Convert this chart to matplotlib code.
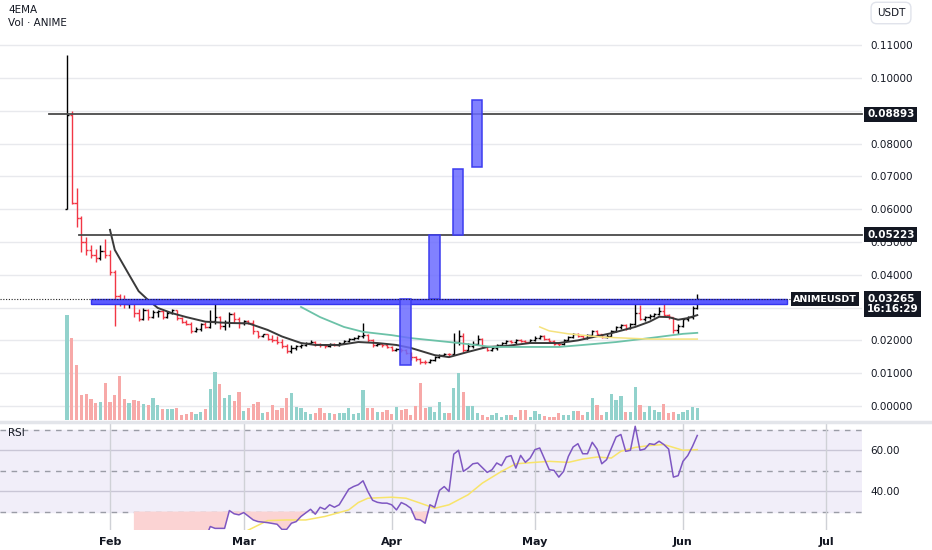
import matplotlib
matplotlib.use("Agg")
import matplotlib.pyplot as plt
import matplotlib.dates as mdates
from matplotlib.patches import Rectangle
from matplotlib.lines import Line2D
from matplotlib.transforms import blended_transform_factory
import numpy as np
import pandas as pd

# daily ANIME/USDT bars, 23 Jan 2025 -> 4 Jun 2025
first_open = 0.0600
closes = [0.0887, 0.0620, 0.0573, 0.0500, 0.0475, 0.0460, 0.0450, 0.0472, 0.0460, 0.0410,
          0.0335, 0.0320, 0.0310, 0.0318, 0.0285, 0.0265, 0.0293, 0.0272, 0.0287, 0.0290,
          0.0272, 0.0285, 0.0292, 0.0268, 0.0256, 0.0250, 0.0228, 0.0236, 0.0250, 0.0242,
          0.0258, 0.0272, 0.0245, 0.0255, 0.0280, 0.0265, 0.0252, 0.0258, 0.0254, 0.0228,
          0.0212, 0.0218, 0.0205, 0.0200, 0.0195, 0.0182, 0.0168, 0.0178, 0.0183, 0.0187,
          0.0192, 0.0196, 0.0188, 0.0185, 0.0183, 0.0190, 0.0186, 0.0192, 0.0197, 0.0203,
          0.0207, 0.0212, 0.0216, 0.0200, 0.0186, 0.0188, 0.0185, 0.0180, 0.0172, 0.0175,
          0.0170, 0.0162, 0.0150, 0.0142, 0.0135, 0.0133, 0.0140, 0.0148, 0.0156, 0.0160,
          0.0157, 0.0195, 0.0213, 0.0172, 0.0183, 0.0190, 0.0203, 0.0180, 0.0172, 0.0176,
          0.0185, 0.0192, 0.0197, 0.0195, 0.0200, 0.0198, 0.0196, 0.0202, 0.0208, 0.0213,
          0.0205, 0.0198, 0.0190, 0.0188, 0.0202, 0.0210, 0.0218, 0.0213, 0.0208, 0.0216,
          0.0228, 0.0218, 0.0210, 0.0214, 0.0230, 0.0240, 0.0246, 0.0238, 0.0250, 0.0285,
          0.0265, 0.0270, 0.0275, 0.0280, 0.0290, 0.0278, 0.0270, 0.0232, 0.0245, 0.0265,
          0.0270, 0.0300, 0.03265]
highs = [0.1070, 0.0900, 0.0665, 0.0580, 0.0515, 0.0490, 0.0478, 0.0490, 0.0510, 0.0475,
         0.0415, 0.0340, 0.0338, 0.0325, 0.0322, 0.0295, 0.0298, 0.0296, 0.0293, 0.0294,
         0.0292, 0.0290, 0.0296, 0.0294, 0.0272, 0.0262, 0.0255, 0.0240, 0.0253, 0.0256,
         0.0292, 0.0315, 0.0275, 0.0263, 0.0286, 0.0288, 0.0272, 0.0262, 0.0263, 0.0262,
         0.0230, 0.0220, 0.0220, 0.0215, 0.0212, 0.0205, 0.0190, 0.0185, 0.0187, 0.0190,
         0.0196, 0.0200, 0.0199, 0.0193, 0.0190, 0.0193, 0.0192, 0.0195, 0.0200, 0.0206,
         0.0210, 0.0215, 0.0253, 0.0218, 0.0203, 0.0192, 0.0191, 0.0188, 0.0184, 0.0178,
         0.0178, 0.0173, 0.0165, 0.0153, 0.0146, 0.0140, 0.0143, 0.0152, 0.0160, 0.0163,
         0.0163, 0.0222, 0.0232, 0.0222, 0.0192, 0.0198, 0.0215, 0.0206, 0.0184, 0.0180,
         0.0188, 0.0195, 0.0200, 0.0202, 0.0203, 0.0204, 0.0202, 0.0205, 0.0212, 0.0217,
         0.0215, 0.0208, 0.0200, 0.0193, 0.0205, 0.0213, 0.0222, 0.0222, 0.0216, 0.0219,
         0.0232, 0.0232, 0.0221, 0.0218, 0.0233, 0.0243, 0.0250, 0.0249, 0.0253, 0.0311,
         0.0308, 0.0273, 0.0279, 0.0284, 0.0302, 0.0313, 0.0281, 0.0272, 0.0250, 0.0268,
         0.0274, 0.0305, 0.0342]
lows = [0.0600, 0.0615, 0.0545, 0.0470, 0.0460, 0.0452, 0.0440, 0.0445, 0.0450, 0.0400,
        0.0244, 0.0305, 0.0300, 0.0300, 0.0272, 0.0258, 0.0262, 0.0262, 0.0268, 0.0270,
        0.0265, 0.0268, 0.0280, 0.0262, 0.0252, 0.0247, 0.0222, 0.0225, 0.0230, 0.0238,
        0.0238, 0.0250, 0.0235, 0.0232, 0.0242, 0.0253, 0.0238, 0.0248, 0.0249, 0.0220,
        0.0208, 0.0210, 0.0200, 0.0196, 0.0190, 0.0176, 0.0163, 0.0163, 0.0172, 0.0178,
        0.0183, 0.0188, 0.0183, 0.0181, 0.0178, 0.0180, 0.0182, 0.0184, 0.0189, 0.0194,
        0.0200, 0.0204, 0.0208, 0.0196, 0.0180, 0.0182, 0.0181, 0.0176, 0.0168, 0.0167,
        0.0165, 0.0158, 0.0140, 0.0137, 0.0127, 0.0128, 0.0130, 0.0137, 0.0145, 0.0152,
        0.0152, 0.0155, 0.0185, 0.0165, 0.0168, 0.0178, 0.0186, 0.0176, 0.0168, 0.0168,
        0.0172, 0.0182, 0.0188, 0.0191, 0.0190, 0.0194, 0.0192, 0.0193, 0.0199, 0.0204,
        0.0201, 0.0195, 0.0186, 0.0184, 0.0185, 0.0198, 0.0206, 0.0209, 0.0204, 0.0205,
        0.0212, 0.0214, 0.0206, 0.0206, 0.0210, 0.0226, 0.0236, 0.0233, 0.0234, 0.0246,
        0.0262, 0.0260, 0.0266, 0.0271, 0.0276, 0.0274, 0.0266, 0.0222, 0.0218, 0.0240,
        0.0258, 0.0266, 0.0296]
volumes = [105, 82, 55, 25, 26, 21, 17, 18, 37, 18,
           25, 44, 21, 17, 20, 19, 16, 15, 22, 15,
           11, 11, 11, 12, 5, 6, 8, 6, 8, 11,
           31, 48, 36, 22, 25, 19, 28, 9, 12, 16,
           18, 7, 8, 15, 10, 12, 22, 27, 13, 12,
           8, 6, 7, 12, 7, 7, 6, 7, 7, 12,
           6, 7, 30, 12, 12, 8, 8, 10, 6, 13,
           10, 11, 5, 14, 37, 12, 13, 8, 18, 7,
           7, 32, 47, 28, 14, 14, 7, 5, 3, 5,
           7, 3, 5, 5, 3, 10, 10, 3, 9, 6,
           4, 3, 3, 7, 5, 5, 9, 9, 5, 8,
           22, 15, 5, 8, 26, 20, 24, 8, 8, 33,
           15, 8, 14, 10, 8, 16, 7, 8, 6, 8,
           10, 13, 12]

# moving averages (day index, value)
ema20_idx = [9, 10, 13, 15, 17, 19, 22, 25, 29, 34, 38, 42, 45, 49, 52, 57, 61, 65, 69, 72,
             77, 80, 84, 88, 92, 97, 103, 107, 114, 119, 122, 124, 126, 128, 130, 132]
ema20_vals = [0.0537, 0.0476, 0.0400, 0.0350, 0.0323, 0.0299, 0.0283, 0.0271, 0.0257, 0.0253,
              0.0252, 0.0232, 0.0212, 0.0192, 0.0186, 0.0186, 0.0195, 0.0192, 0.0186, 0.0177,
              0.0155, 0.0149, 0.0165, 0.0180, 0.0183, 0.0192, 0.0192, 0.0200, 0.0222, 0.0241,
              0.0257, 0.0272, 0.0271, 0.0263, 0.0268, 0.0277]
ema50_idx = [49, 53, 58, 62, 68, 72, 82, 89, 96, 103, 108, 115, 122, 129, 132]
ema50_vals = [0.0302, 0.0271, 0.0241, 0.0226, 0.0216, 0.0207, 0.0192, 0.0180, 0.0180, 0.0180,
              0.0186, 0.0195, 0.0207, 0.0220, 0.0223]
ema100_idx = [99, 101, 105, 112, 122, 132]
ema100_vals = [0.0241, 0.0229, 0.0220, 0.0210, 0.0204, 0.0204]

rsi_idx = [14, 18, 22, 26, 29, 30, 31, 33, 34, 35, 36, 37, 39, 40, 42, 44, 45, 46, 47, 48,
           49, 51, 52, 53, 54, 55, 56, 57, 59, 60, 61, 62, 63, 64, 65, 66, 67, 68, 69, 70,
           71, 72, 73, 74, 75, 76, 77, 78, 79, 80, 81, 82, 83, 84, 85, 86, 88, 89, 90, 91,
           92, 93, 94, 95, 96, 97, 98, 99, 101, 102, 103, 104, 105, 106, 107, 108, 109, 110,
           111, 112, 113, 115, 116, 117, 118, 119, 120, 121, 122, 123, 124, 125, 126, 127,
           128, 129, 130, 131, 132]
rsi_vals = [16, 14, 13, 12, 17, 22.7, 21.8, 21.8, 30.5, 28.9, 28.4, 29.5, 25.9, 25.1, 24.6,
            23.8, 21.3, 21.3, 24.3, 25.1, 27.6, 31.1, 28.7, 32.1, 31.1, 33.3, 32.1, 33.3, 40.9,
            42.2, 43.1, 45.0, 39.8, 35.5, 34.5, 34.1, 34.1, 33.3, 30.8, 34.4, 33.3, 31.6, 26.2,
            25.9, 24.3, 33.3, 32.1, 40.3, 42.2, 39.8, 58.0, 59.9, 49.6, 51.2, 53.3, 53.7, 49.1,
            50.4, 53.7, 52.4, 56.6, 57.3, 51.2, 57.4, 54.0, 56.1, 60.2, 61.0, 50.4, 50.1, 46.8,
            49.6, 56.9, 61.5, 63.1, 58.2, 58.2, 63.8, 60.5, 53.3, 55.3, 66.4, 67.6, 59.4, 59.9,
            71.6, 59.9, 60.5, 63.1, 62.7, 64.3, 62.7, 60.5, 46.8, 47.5, 54.5, 57.3, 61.8, 67.1]
rsi_ma_idx = [34, 38, 42, 46, 50, 54, 59, 61, 63, 68, 71, 74, 77, 80, 84, 87, 91, 94, 98, 101,
              105, 108, 111, 114, 116, 119, 122, 125, 127, 129, 132]
rsi_ma_vals = [16, 21.0, 25.6, 25.9, 25.9, 27.6, 30.8, 34.4, 36.5, 37.0, 36.5, 34.1, 31.6, 33.3,
               38.2, 43.9, 49.6, 53.3, 54.0, 54.5, 54.0, 55.6, 56.6, 56.1, 59.4, 61.3, 62.2,
               62.7, 61.3, 59.9, 60.2]

# drawings
level_prices = [0.08893, 0.05223]
level_starts = ["2025-01-19 04:00", "2025-01-25 12:00"]
zone_start, zone_end = "2025-01-28", "2025-06-22 18:00"
zone_low, zone_high = 0.0311, 0.0326
box_starts = ["2025-04-02 18:00", "2025-04-08 19:00", "2025-04-13 22:00", "2025-04-17 19:00"]
box_ends = ["2025-04-05 02:00", "2025-04-11 02:00", "2025-04-16 00:00", "2025-04-19 22:00"]
box_lows = [0.0125, 0.0326, 0.0522, 0.0729]
box_highs = [0.0326, 0.0522, 0.0723, 0.0933]
last_price = 0.03265
price_ticks = [0.00, 0.01, 0.02, 0.03, 0.04, 0.05, 0.06, 0.07, 0.08, 0.09, 0.10, 0.11]
# tick labels hidden behind the price tags on the reference
covered_ticks = [0.03, 0.09]

W, H = 932, 550
TXT = "#131722"


def rect(x0, y0, x1, y1):
    return [x0 / W, 1 - y1 / H, (x1 - x0) / W, (y1 - y0) / H]


def px(x, y):
    return x / W, 1 - y / H


dates = pd.date_range("2025-01-23", periods=len(closes), freq="D")
opens = [first_open] + closes[:-1]
up = np.array(closes) >= np.array(opens)
bar_col = np.where(up, "#000000", "#f23645")
vol_col = np.where(up, "#92d2cc", "#f7a9a8")

fig = plt.figure(figsize=(W / 100, H / 100), dpi=100)
ax = fig.add_axes(rect(0, 0, 862, 420))
rax = fig.add_axes(rect(0, 423, 862, 530), sharex=ax)

feb1 = pd.Timestamp("2025-02-01")
ax.set_xlim(feb1 - pd.Timedelta(days=23.04), feb1 + pd.Timedelta(days=157.5))
ax.set_ylim(-0.00427, 0.12378)

# volume on its own scale, sitting behind the price axes
vax = ax.twinx()
vax.set_ylim(0, 420)
vax.set_zorder(ax.get_zorder() - 1)
ax.patch.set_visible(False)
vax.patch.set_facecolor("white")
vax.set_yticks([])
vax.xaxis.set_major_locator(mdates.MonthLocator())
vax.grid(axis="x", color="#cfd1d6", lw=1, zorder=0)
grid_tr = blended_transform_factory(vax.transAxes, ax.transData)
for p in price_ticks:
    vax.plot([0, 1], [p, p], transform=grid_tr, color="#e8e9ed", lw=1, zorder=0)
vax.bar(dates, volumes, width=0.68, color=vol_col, zorder=2)

ax.xaxis.set_major_locator(mdates.MonthLocator())
ax.xaxis.set_major_formatter(mdates.DateFormatter("%b"))
rax.grid(axis="x", color="#cfd1d6", lw=1, zorder=0)

# OHLC bars
half = pd.Timedelta(hours=11)
ax.vlines(dates, lows, highs, colors=bar_col, lw=1.0, zorder=3)
ax.hlines(opens, dates - half, dates, colors=bar_col, lw=1.0, zorder=3)
ax.hlines(closes, dates, dates + half, colors=bar_col, lw=1.0, zorder=3)

# EMAs
ax.plot(dates[ema20_idx], ema20_vals, color="#3a3a3a", lw=1.4, zorder=4)
ax.plot(dates[ema50_idx], ema50_vals, color="#6cc2a8", lw=1.3, zorder=4)
ax.plot(dates[ema100_idx], ema100_vals, color="#f5e27e", lw=1.1, zorder=4)

# drawn levels and boxes
x_right = ax.get_xlim()[1]
for lvl, st in zip(level_prices, level_starts):
    ax.plot([mdates.date2num(pd.Timestamp(st)), x_right], [lvl, lvl],
            color="#4a4a4a", lw=1.3, zorder=5, clip_on=False)

z0 = mdates.date2num(pd.Timestamp(zone_start))
z1 = mdates.date2num(pd.Timestamp(zone_end))
ax.add_patch(Rectangle((z0, zone_low), z1 - z0, zone_high - zone_low,
                       fc="#5a5aff", ec="#3434ee", lw=1, zorder=5))
for s, e, lo, hi in zip(box_starts, box_ends, box_lows, box_highs):
    b0 = mdates.date2num(pd.Timestamp(s))
    b1 = mdates.date2num(pd.Timestamp(e))
    ax.add_patch(Rectangle((b0, lo), b1 - b0, hi - lo,
                           fc=(0.42, 0.42, 1.0, 0.85), ec="#3c3cf0", lw=1.1, zorder=6))

ax.plot([ax.get_xlim()[0], z1 + 1.3], [last_price, last_price], color="#222222",
        lw=0.8, ls=(0, (1, 1.5)), zorder=6)

ax.yaxis.tick_right()
ax.set_yticks(price_ticks)
ax.set_yticklabels(["" if p in covered_ticks else f"{p:.5f}" for p in price_ticks])
ax.tick_params(axis="y", length=0, pad=6, labelsize=7.5, labelcolor=TXT)
ax.tick_params(axis="x", length=0, labelbottom=False)
for a in (ax, vax, rax):
    for sp in a.spines.values():
        sp.set_visible(False)

# RSI panel
rax.set_ylim(21.0, 73.2)
rax.axhspan(30, 70, color="#f1eef9", zorder=0)
for lv in (60, 40):
    rax.axhline(lv, color="#c9c6d6", lw=1, zorder=1)
for lv in (70, 50, 30):
    rax.axhline(lv, color="#9a9ca6", lw=1, ls=(0, (4, 4)), zorder=1)
rdates = dates[rsi_idx]
rv = np.array(rsi_vals)
rax.fill_between(rdates, rv, 30, where=rv < 30, interpolate=True, color="#fbd3d3", lw=0, zorder=1)
rax.plot(dates[rsi_ma_idx], rsi_ma_vals, color="#f8e46a", lw=1.1, zorder=2)
rax.plot(rdates, rv, color="#7e57c2", lw=1.1, zorder=3)
rax.yaxis.tick_right()
rax.set_yticks([40, 60])
rax.set_yticklabels(["40.00", "60.00"])
rax.tick_params(axis="y", length=0, pad=6, labelsize=7.5, labelcolor=TXT)
rax.tick_params(axis="x", length=0, pad=5, labelsize=8, labelcolor=TXT)
for lab in rax.get_xticklabels():
    lab.set_fontweight("bold")

# panel separator
fig.add_artist(Line2D([0, 1], [1 - 421.5 / H] * 2, color="#e3e5ea", lw=2.5))

# legends / labels
fig.text(*px(8, 10), "4EMA", fontsize=7.5, color=TXT, va="center")
fig.text(*px(8, 23), "Vol · ANIME", fontsize=7.5, color=TXT, va="center")
fig.text(*px(8, 433), "RSI", fontsize=7.5, color=TXT, va="center")
fig.text(*px(891, 13), "USDT", fontsize=7.5, color=TXT, ha="center", va="center",
         bbox=dict(boxstyle="round,pad=0.55", fc="white", ec="#e0e3eb", lw=1))

black_box = dict(boxstyle="square,pad=0.25", fc="#131722", ec="none")
for lvl in level_prices:
    y = 406 - lvl * 3280
    fig.text(*px(867, y), f"{lvl:.5f}", fontsize=7.5, color="white", fontweight="bold",
             va="center", ha="left", bbox=black_box)
fig.text(*px(867, 304), f"{last_price:.5f}\n16:16:29", fontsize=7.5, color="white",
         fontweight="bold", va="center", ha="left", linespacing=1.0, bbox=black_box)
fig.text(*px(857, 299), "ANIMEUSDT", fontsize=6.8, color="white", fontweight="bold",
         va="center", ha="right", bbox=black_box)

fig.savefig("out.png", dpi=100, facecolor="white")
